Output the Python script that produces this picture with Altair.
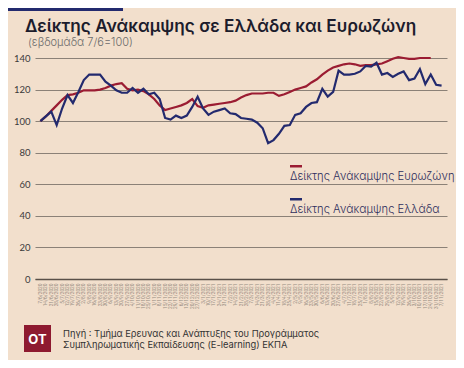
import altair as alt
import pandas as pd

weeks = [
    "7/6/2020", "14/6/2020", "21/6/2020", "28/6/2020", "5/7/2020", "12/7/2020", "19/7/2020", "26/7/2020",
    "2/8/2020", "9/8/2020", "16/8/2020", "23/8/2020", "30/8/2020", "6/9/2020", "13/9/2020", "20/9/2020",
    "27/9/2020", "4/10/2020", "11/10/2020", "18/10/2020", "25/10/2020", "1/11/2020", "8/11/2020",
    "15/11/2020", "22/11/2020", "29/11/2020", "6/12/2020", "13/12/2020", "20/12/2020", "27/12/2020",
    "3/1/2021", "10/1/2021", "17/1/2021", "24/1/2021", "31/1/2021", "7/2/2021", "14/2/2021", "21/2/2021",
    "28/2/2021", "7/3/2021", "14/3/2021", "21/3/2021", "28/3/2021", "4/4/2021", "11/4/2021", "18/4/2021",
    "25/4/2021", "2/5/2021", "9/5/2021", "16/5/2021", "23/5/2021", "30/5/2021", "6/6/2021", "13/6/2021",
    "20/6/2021", "27/6/2021", "4/7/2021", "11/7/2021", "18/7/2021", "25/7/2021", "1/8/2021", "8/8/2021",
    "15/8/2021", "22/8/2021", "29/8/2021", "5/9/2021", "12/9/2021", "19/9/2021", "26/9/2021", "3/10/2021",
    "10/10/2021", "17/10/2021", "24/10/2021", "31/10/2021", "7/11/2021",
]

greece = [
    100, 103, 106, 97.5, 108, 116.5, 111.5, 118.5, 126, 129.5,
    129.5, 129.5, 125, 122.5, 119.5, 118, 118, 121, 118, 120.5,
    117, 118, 114, 102, 101, 103.5, 102, 103.5, 109, 115.5,
    108, 104, 106, 107, 108, 105, 104.5, 102, 101.5, 101,
    99, 95.5, 86, 88, 92, 97, 97.5, 104, 105, 109,
    111.5, 112, 120.5, 115.5, 118.5, 132, 129.5, 129.5, 130, 131.5,
    135, 134.5, 137, 129.5, 130.5, 128, 130, 131.5, 126, 127,
    133, 123.5, 129.5, 123, 122.5,
]

eurozone = [
    100, 103, 106.5, 110, 113.5, 116.5, 117, 118, 119.5, 119.5,
    119.5, 120, 121, 122.5, 123.5, 124, 120.5, 119.5, 120, 119,
    117, 114, 110, 107, 108, 109, 110, 111.5, 114, 109.5,
    108.5, 110, 110.5, 111, 111.5, 112, 113, 115, 116.5, 117.5,
    117.5, 117.5, 118, 118, 116, 117, 118.5, 120, 121, 122,
    124.5, 126.5, 129.5, 132, 134, 135, 136, 136.5, 136, 135,
    135.5, 135.5, 136, 136.5, 138, 139.5, 140.5, 140, 139.5, 139.5,
    140, 140, 140,
]

series_names = ["Δείκτης Ανάκαμψης Ευρωζώνη", "Δείκτης Ανάκαμψης Ελλάδα"]
y_ticks = [0, 20, 40, 60, 80, 100, 120, 140]
title_text = "Δείκτης Ανάκαμψης σε Ελλάδα και Ευρωζώνη"
subtitle_text = "(εβδομάδα 7/6=100)"
source_lines = [
    "Πηγή : Τμήμα Ερευνας και Ανάπτυξης του Προγράμματος",
    "Συμπληρωματικής Εκπαίδευσης (E-learning) ΕΚΠΑ",
]

RED = "#9b1c32"
NAVY = "#232a6e"
BG = "#f2dfcc"
W, H = 412, 221

df_gr = pd.DataFrame({"week": weeks[:len(greece)], "value": greece})
df_ez = pd.DataFrame({"week": weeks[:len(eurozone)], "value": eurozone})

x_enc = alt.X(
    "week:O", sort=weeks, title=None,
    scale=alt.Scale(type="point", padding=1.15),
    axis=alt.Axis(labelAngle=-90, labelFontSize=4.8, labelColor="#958a80", labelFont="Roboto",
                  ticks=False, domain=True, domainColor="#5a5048", domainWidth=1.5,
                  grid=False, labelPadding=4, labelOverlap=False),
)
y_enc = alt.Y(
    "value:Q", title=None,
    scale=alt.Scale(domain=[0, 140], nice=False, zero=True),
    axis=alt.Axis(values=y_ticks, grid=True, gridColor="#8b8177", gridWidth=1.2,
                  domain=False, ticks=False, labelFontSize=9.5, labelColor="#3a3a3a",
                  labelFont="Lato", labelPadding=5),
)

ez_line = alt.Chart(df_ez).mark_line(color=RED, strokeWidth=2.2).encode(x=x_enc, y=y_enc)
gr_line = alt.Chart(df_gr).mark_line(color=NAVY, strokeWidth=2.2).encode(x=x_enc, y=y_enc)

one = alt.Data(values=[{"a": 1}])


def txt(text, x, y, size, color, weight="normal", font="Inter", align="left"):
    return alt.Chart(one).mark_text(
        text=text, fontSize=size, color=color, fontWeight=weight, font=font,
        align=align, baseline="alphabetic"
    ).encode(x=alt.value(x), y=alt.value(y))


def rect(x, x2, y, y2, color):
    return alt.Chart(one).mark_rect(color=color).encode(
        x=alt.value(x), x2=alt.value(x2), y=alt.value(y), y2=alt.value(y2)
    )


deco = [
    rect(-27, 88, -50, -47, NAVY),
    txt(title_text, -10, -26, 17.2, "#1c1c2c", weight=600),
    txt(subtitle_text, -7, -12, 11, "#6b6b6b", weight=300),
    rect(255, 267, 107, 109.5, RED),
    txt(series_names[0], 255, 122, 11.2, "#2e2e5c", weight=300),
    rect(255, 267, 140, 142.5, NAVY),
    txt(series_names[1], 255, 155, 11.2, "#2e2e5c", weight=300),
    rect(-11, 16, 267, 294, "#8e1a30"),
    txt("OT", 2.5, 286, 13, "white", weight="bold", align="center"),
    txt(source_lines[0], 28, 279, 9.3, "#333333"),
    txt(source_lines[1], 28, 290, 9.3, "#333333"),
]

chart = alt.layer(ez_line, gr_line, *deco).properties(
    width=W, height=H,
    autosize=alt.AutoSizeParams(type="none"),
    padding={"left": 27, "top": 50, "right": 9, "bottom": 81},
    background=BG,
).configure_view(stroke=None)

chart.save("out.html", embed_options={"renderer": "svg", "actions": False})
